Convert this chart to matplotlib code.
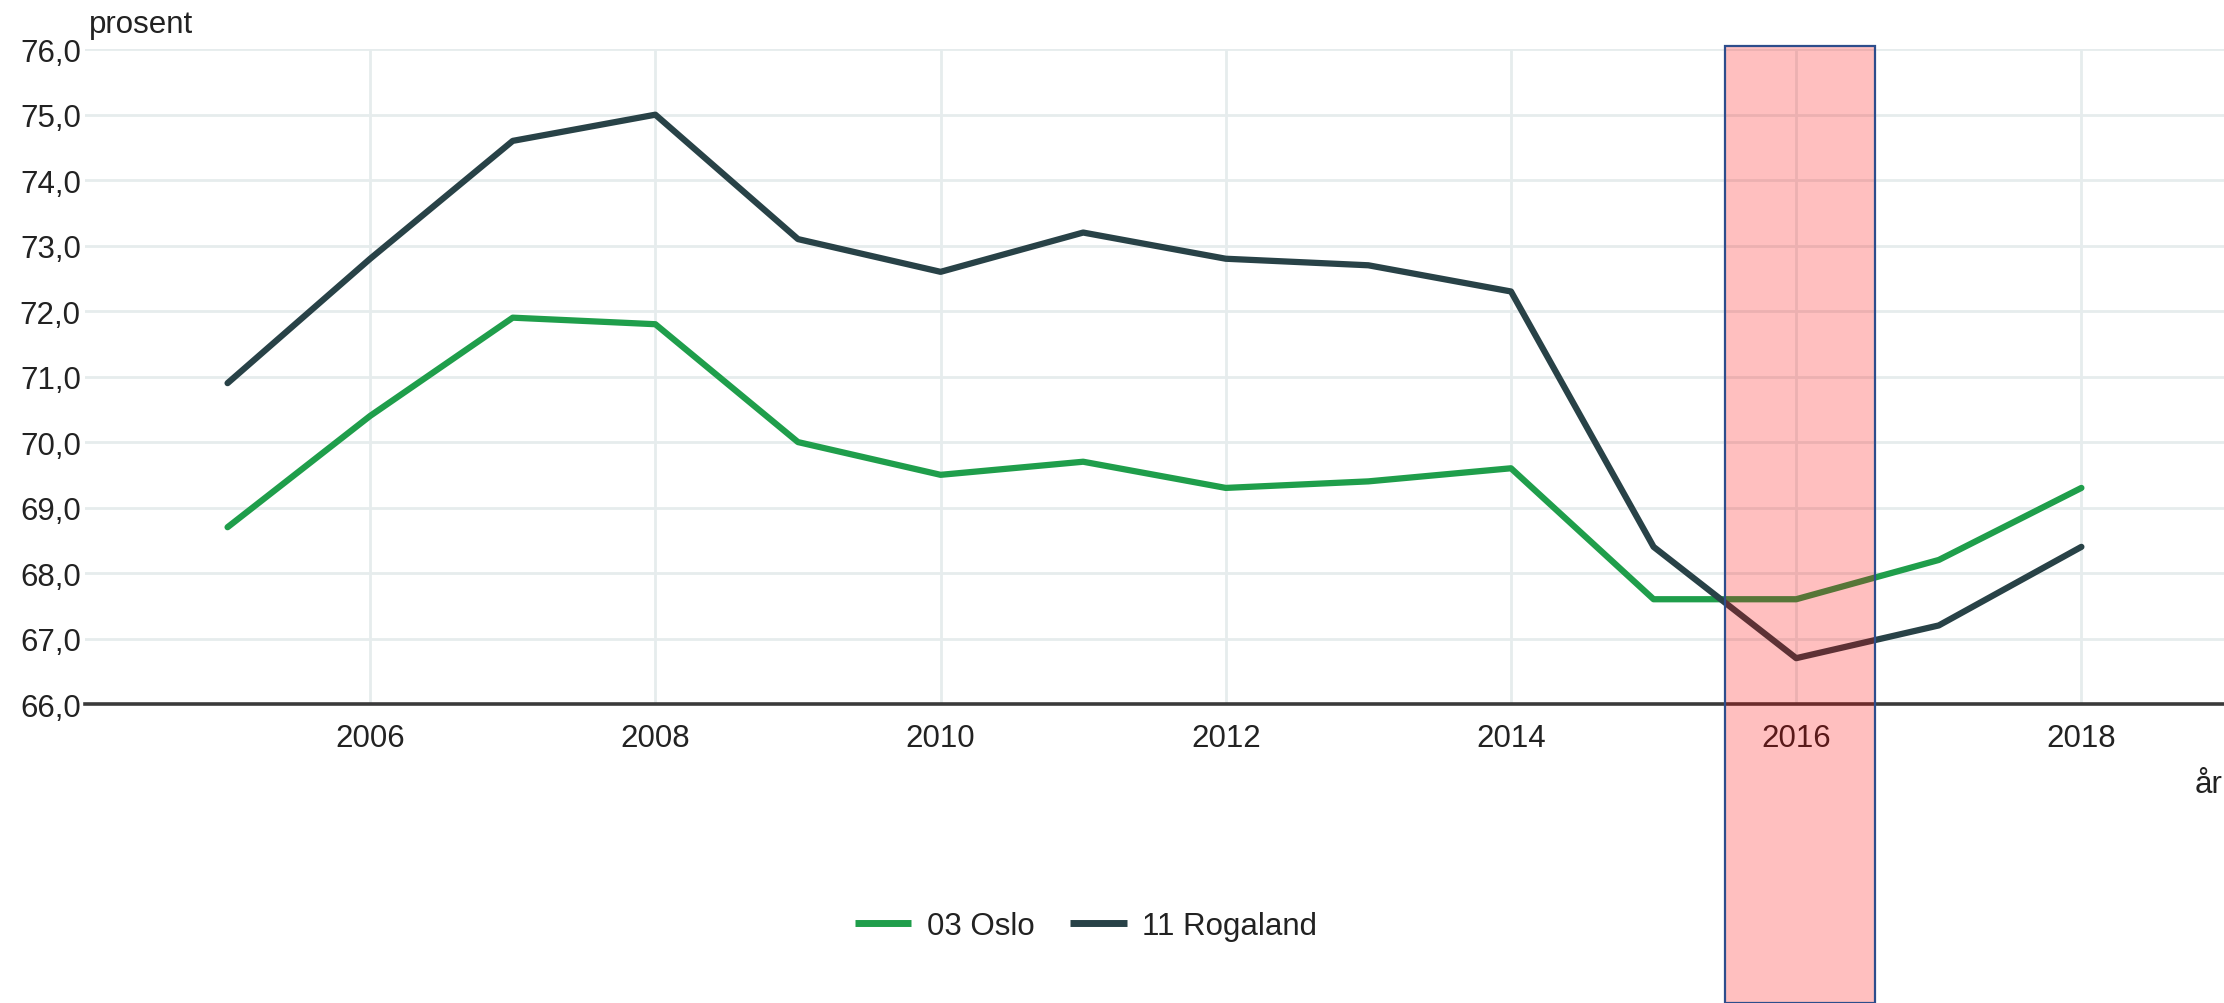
import matplotlib
matplotlib.use("Agg")
import matplotlib.pyplot as plt
from matplotlib.patches import Rectangle
import matplotlib.transforms as mtransforms
from matplotlib.ticker import FuncFormatter, MultipleLocator, FixedLocator

plt.rcParams['font.family'] = ['Liberation Sans', 'DejaVu Sans']

years = [2005, 2006, 2007, 2008, 2009, 2010, 2011, 2012, 2013, 2014, 2015, 2016, 2017, 2018]
oslo = [68.7, 70.4, 71.9, 71.8, 70.0, 69.5, 69.7, 69.3, 69.4, 69.6, 67.6, 67.6, 68.2, 69.3]
rogaland = [70.9, 72.8, 74.6, 75.0, 73.1, 72.6, 73.2, 72.8, 72.7, 72.3, 68.4, 66.7, 67.2, 68.4]
series_names = ["03 Oslo", "11 Rogaland"]
x_ticks = [2006, 2008, 2010, 2012, 2014, 2016, 2018]
highlight_year = 2016

GREEN = '#1f9e4b'
DARK = '#284247'
TXT = '#222222'
FS = 22.5

fig = plt.figure(figsize=(22.24, 10.04), dpi=100)
ax = fig.add_axes([0.0382, 0.2978, 0.9618, 0.6522])

ax.plot(years, oslo, color=GREEN, lw=4.5, solid_capstyle='round', solid_joinstyle='round',
        label=series_names[0], zorder=3)
ax.plot(years, rogaland, color=DARK, lw=4.5, solid_capstyle='round', solid_joinstyle='round',
        label=series_names[1], zorder=3)

ax.set_xlim(2004.0, 2019.0)
ax.set_ylim(66, 76)
ax.xaxis.set_major_locator(FixedLocator(x_ticks))
ax.yaxis.set_major_locator(MultipleLocator(1))
ax.yaxis.set_major_formatter(FuncFormatter(lambda v, p: f"{v:.1f}".replace('.', ',')))
ax.xaxis.set_major_formatter(FuncFormatter(lambda v, p: f"{int(round(v))}"))

ax.grid(True, color='#e6eced', lw=2, zorder=0)
ax.set_axisbelow(True)
for s in ['top', 'right', 'left']:
    ax.spines[s].set_visible(False)
ax.spines['bottom'].set_color('#3a3a3a')
ax.spines['bottom'].set_linewidth(2.6)
ax.spines['bottom'].set_zorder(4)

ax.tick_params(axis='both', length=0, labelsize=FS, labelcolor=TXT)
ax.tick_params(axis='x', pad=14)
ax.tick_params(axis='y', pad=3)

# highlight band
trans = mtransforms.blended_transform_factory(ax.transData, fig.transFigure)
band = Rectangle((highlight_year - 0.5, 0.0), 1.05, 1 - 47/1004, transform=trans,
                 facecolor=(1, 0, 0, 0.25), edgecolor='#2d4d8c', lw=1.6,
                 clip_on=False, zorder=5)
fig.add_artist(band)

fig.text(89/2224, 1 - 25/1004, "prosent", fontsize=FS, color=TXT, ha='left', va='center')
fig.text(2222/2224, 1 - 785/1004, "år", fontsize=FS, color=TXT, ha='right', va='center')

leg = fig.legend(loc='center', bbox_to_anchor=(1086/2224, 1 - 927/1004), ncol=2,
                 frameon=False, fontsize=FS, handlelength=1.8, handletextpad=0.5,
                 columnspacing=1.15, labelcolor=TXT)
for h in leg.get_lines():
    h.set_linewidth(5)
    h.set_solid_capstyle('butt')

fig.savefig('out.png', dpi=100, facecolor='white')
